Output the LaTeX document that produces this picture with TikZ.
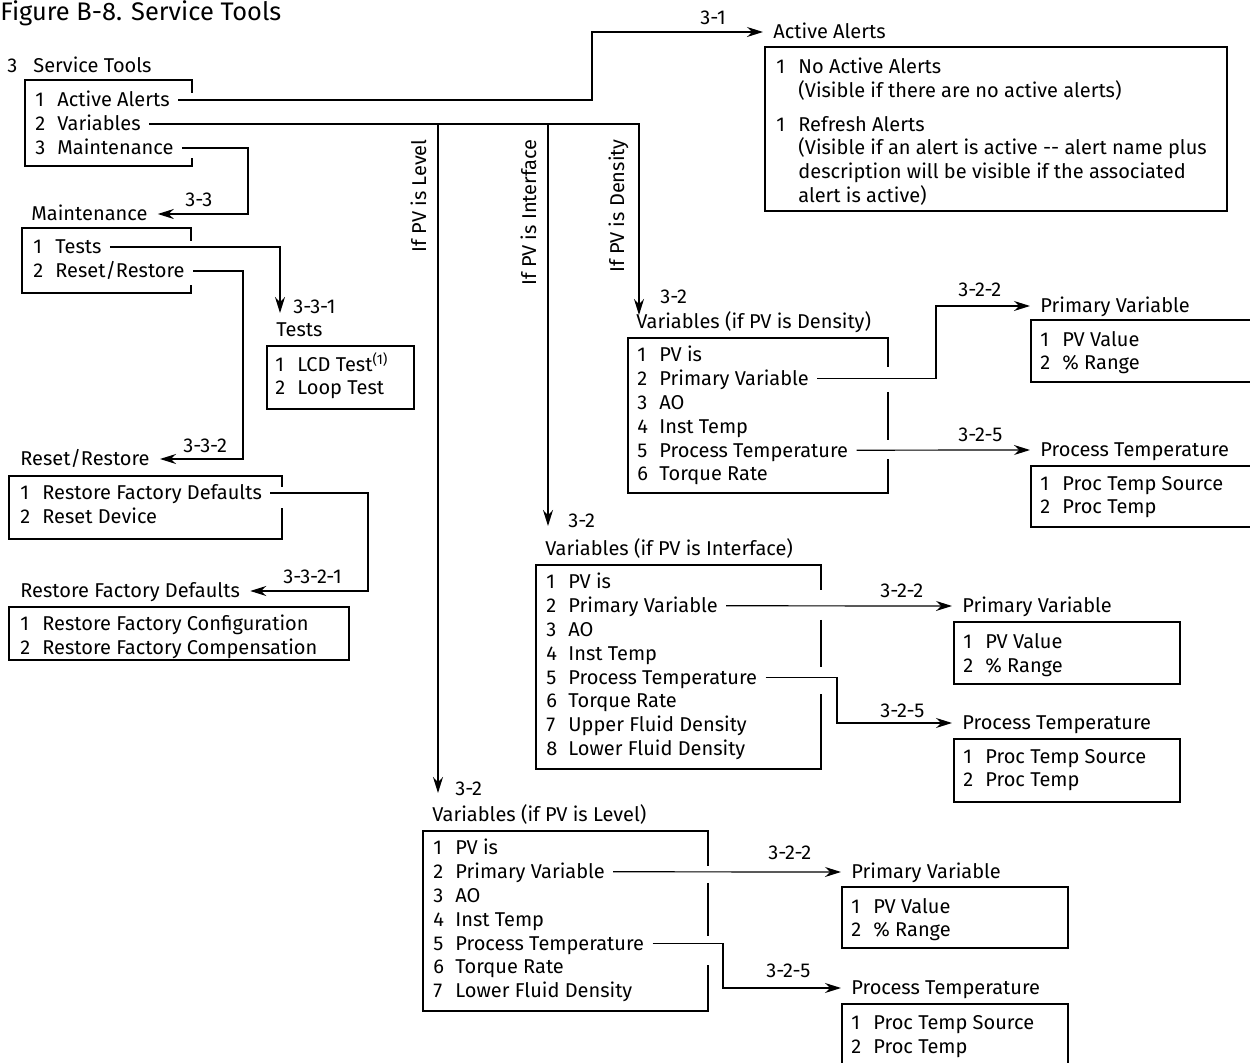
\documentclass[tikz,border=0pt]{standalone}
\usepackage{fontspec}
\setmainfont{Fira Sans}
\usetikzlibrary{arrows.meta}

\newcommand\nr[1]{\makebox[11pt][l]{#1}}

\tikzset{
  menu/.style={font=\fontsize{10}{12}\selectfont, text height=8.5pt, text depth=1.5pt},
  row/.style={menu, anchor=west, inner xsep=4pt, inner ysep=0pt, xshift=-4pt},
  head/.style={menu, anchor=west, inner xsep=5pt, inner ysep=0pt, xshift=-5pt},
  tag/.style={menu, anchor=west, inner sep=0pt},
  side/.style={menu, rotate=90, anchor=east, inner sep=0pt},
  wire/.style={line width=0.6pt},
  conn/.style={wire, -{Stealth[length=8pt,width=5pt]}},
}

\begin{document}
\begin{tikzpicture}[x=0.5pt, y=-0.5pt]
\useasboundingbox (0,0) rectangle (1250,1063);

\node[tag, font=\fontsize{12.7}{14}\selectfont] (fig) at (0,14) {Figure B-8. Service Tools};

% service tools
\node[head] (hst) at (7,66) {\makebox[13pt][l]{3}Service Tools};
\foreach \t [count=\i] in {Active Alerts, Variables, Maintenance}
  \node[row] (st\i) at (35,{76+24*\i}) {\nr{\i}\t};
\draw[wire] (192,93) |- (25,80) |- (192,166) -- (192,158);

% active alerts
\node[head] (haa) at (773,32) {Active Alerts};
\node[row] (aa1) at (776,67) {\nr{1}No Active Alerts};
\node[row] (aa1b) at (776,91) {\nr{}(Visible if there are no active alerts)};
\node[row] (aa2) at (776,125) {\nr{1}Refresh Alerts};
\node[row] (aa2b) at (776,148) {\nr{}(Visible if an alert is active -{}- alert name plus};
\node[row] (aa2c) at (776,172) {\nr{}description will be visible if the associated};
\node[row] (aa2d) at (776,196) {\nr{}alert is active)};
\draw[wire] (765,47) rectangle (1227,211);

% maintenance
\node[head] (hmt) at (31,214) {Maintenance};
\node[row] (mt1) at (33,247) {\nr{1}Tests};
\node[row] (mt2) at (33,271) {\nr{2}Reset/Restore};
\draw[wire] (191,241) |- (22,228) |- (191,293) -- (191,285);

\node[head] (hts) at (276,330) {Tests};
\node[row] (ts1) at (275,365) {\nr{1}LCD Test\textsuperscript{(1)}};
\node[row] (ts2) at (275,388) {\nr{2}Loop Test};
\draw[wire] (267,346) rectangle (414,409);

\node[head] (hrr) at (20,459) {Reset/Restore};
\node[row] (rr1) at (20,493) {\nr{1}Restore Factory Defaults};
\node[row] (rr2) at (20,517) {\nr{2}Reset Device};
\draw[wire] (282,487) |- (9,476) |- (282,539) -- (282,508);

\node[head] (hrf) at (20,591) {Restore Factory Defaults};
\node[row] (rf1) at (20,624) {\nr{1}Restore Factory Configuration};
\node[row] (rf2) at (20,648) {\nr{2}Restore Factory Compensation};
\draw[wire] (9,607) rectangle (349,660);

% variables, density
\node[tag] (t32d) at (660,297) {3-2};
\node[head] (hdv) at (636,322) {Variables (if PV is Density)};
\foreach \t [count=\i] in {PV is, Primary Variable, AO, Inst Temp, Process Temperature, Torque Rate}
  \node[row] (dv\i) at (637,{331.2+23.8*\i}) {\nr{\i}\t};
\draw[wire] (888,367) |- (628,338) |- (888,493) -- (888,459);
\draw[wire] (888,392) -- (888,440);

\node[head] (hdpv) at (1040,306) {Primary Variable};
\node[row] (dpv1) at (1040,340) {\nr{1}PV Value};
\node[row] (dpv2) at (1040,363) {\nr{2}\% Range};
\draw[wire] (1250,320) -| (1031,382) -- (1250,382);

\node[head] (hdpt) at (1040,450) {Process Temperature};
\node[row] (dpt1) at (1040,484) {\nr{1}Proc Temp Source};
\node[row] (dpt2) at (1040,507) {\nr{2}Proc Temp};
\draw[wire] (1250,466) -| (1031,527) -- (1250,527);

% variables, interface
\node[tag] (t32i) at (568,521) {3-2};
\node[head] (hiv) at (545,549) {Variables (if PV is Interface)};
\foreach \t [count=\i] in {PV is, Primary Variable, AO, Inst Temp, Process Temperature, Torque Rate, Upper Fluid Density, Lower Fluid Density}
  \node[row] (iv\i) at (546,{558.2+23.8*\i}) {\nr{\i}\t};
\draw[wire] (821,590) |- (536,565) |- (821,769) -- (821,694);
\draw[wire] (821,620) -- (821,667);

\node[head] (hipv) at (962,606) {Primary Variable};
\node[row] (ipv1) at (963,642) {\nr{1}PV Value};
\node[row] (ipv2) at (963,666) {\nr{2}\% Range};
\draw[wire] (954,622) rectangle (1180,684);

\node[head] (hipt) at (962,723) {Process Temperature};
\node[row] (ipt1) at (963,757) {\nr{1}Proc Temp Source};
\node[row] (ipt2) at (963,780) {\nr{2}Proc Temp};
\draw[wire] (954,739) rectangle (1180,802);

% variables, level
\node[tag] (t32l) at (455,789) {3-2};
\node[head] (hlv) at (432,815) {Variables (if PV is Level)};
\foreach \t [count=\i] in {PV is, Primary Variable, AO, Inst Temp, Process Temperature, Torque Rate, Lower Fluid Density}
  \node[row] (lv\i) at (433,{824.2+23.8*\i}) {\nr{\i}\t};
\draw[wire] (708,866) |- (423,831) |- (708,1011) -- (708,965);
\draw[wire] (708,883) -- (708,936);

\node[head] (hlpv) at (851,872) {Primary Variable};
\node[row] (lpv1) at (851,907) {\nr{1}PV Value};
\node[row] (lpv2) at (851,930) {\nr{2}\% Range};
\draw[wire] (842,887) rectangle (1068,948);

\node[head] (hlpt) at (851,988) {Process Temperature};
\node[row] (lpt1) at (851,1023) {\nr{1}Proc Temp Source};
\node[row] (lpt2) at (851,1047) {\nr{2}Proc Temp};
\draw[wire] (842,1063) |- (1068,1004) -- (1068,1063);

% branch labels
\node[side] (sl) at (419,139) {If PV is Level};
\node[side] (si) at (529,139) {If PV is Interface};
\node[side] (sd) at (617,139) {If PV is Density};

% connector labels
\node[tag] (t31) at (700,18) {3-1};
\node[tag] (t33) at (185,200) {3-3};
\node[tag] (t331) at (293,307) {3-3-1};
\node[tag] (t332) at (183,446) {3-3-2};
\node[tag] (t3321) at (283,577) {3-3-2-1};
\node[tag] (t322d) at (958,290) {3-2-2};
\node[tag] (t325d) at (958,435) {3-2-5};
\node[tag] (t322i) at (880,591) {3-2-2};
\node[tag] (t325i) at (880,711) {3-2-5};
\node[tag] (t322l) at (768,853) {3-2-2};
\node[tag] (t325l) at (766,971) {3-2-5};

% bends and arrow ends
\coordinate (k31) at (592,32);
\coordinate (x33) at (248,0);
\coordinate (x332) at (243,0);
\coordinate (x3321) at (368,0);
\coordinate (x322d) at (936,0);
\coordinate (x325i) at (837,0);
\coordinate (x325l) at (723,0);
\coordinate (dn-t) at (280,313);
\coordinate (dn-d) at (639,315);
\coordinate (dn-i) at (548,526);
\coordinate (dn-l) at (438,793);

\draw[conn] (st1.east) -| (k31) -- (haa.west);
\draw[conn] (st2.east) -| (dn-d);
\draw[conn] (st2.east -| dn-i) -- (dn-i);
\draw[conn] (st2.east -| dn-l) -- (dn-l);
\draw[conn] (st3.east) -- (st3.east -| x33) |- (hmt.east);
\draw[conn] (mt1.east) -| (dn-t);
\draw[conn] (mt2.east) -- (mt2.east -| x332) |- (hrr.east);
\draw[conn] (rr1.east) -- (rr1.east -| x3321) |- (hrf.east);
\draw[conn] (dv2.east) -- (dv2.east -| x322d) |- (hdpv.west);
\draw[conn] (dv5.east) -- (hdpt.west);
\draw[conn] (iv2.east) -- (hipv.west);
\draw[conn] (iv5.east) -- (iv5.east -| x325i) |- (hipt.west);
\draw[conn] (lv2.east) -- (hlpv.west);
\draw[conn] (lv5.east) -- (lv5.east -| x325l) |- (hlpt.west);
\end{tikzpicture}
\end{document}
